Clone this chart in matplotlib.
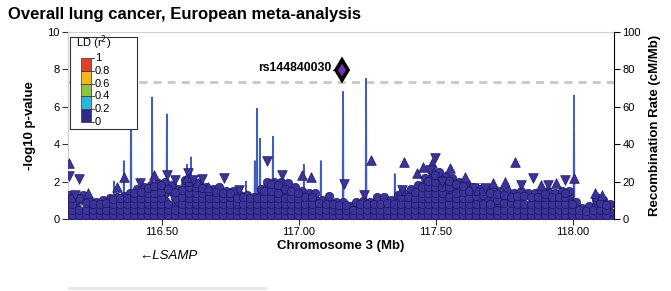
import matplotlib
matplotlib.use("Agg")
import matplotlib.pyplot as plt
from matplotlib.patches import Rectangle

plt.rcParams['font.family'] = ['Liberation Sans', 'DejaVu Sans']

# ---- data ----
title = "Overall lung cancer, European meta-analysis"
xticks = [116.5, 117.0, 117.5, 118.0]
xticklabels = ["116.50", "117.00", "117.50", "118.00"]

lead_snp = "rs144840030"
lead_pos = 117.157
lead_logp = 7.97
sig_line = 7.3

# recombination rate spikes (Mb, cM/Mb), baseline near zero
recomb_peak_pos = [116.325, 116.361, 116.387, 116.464, 116.518, 116.591, 116.606,
                   116.807, 116.839, 116.847, 116.858, 116.905, 117.018, 117.080,
                   117.161, 117.245, 117.350, 118.004]
recomb_peak_rate = [20, 31, 71, 65, 56, 29, 33, 20, 31, 59, 43, 44, 29, 31,
                    68, 75, 24, 66]
recomb_base = 0.5

# SNP columns (circles): position and the -log10 p of the SNPs stacked there
snp_col_pos = [116.160, 116.185, 116.210, 116.235, 116.260, 116.285, 116.310, 116.335,
               116.360, 116.385, 116.410, 116.435, 116.460, 116.485, 116.510, 116.535,
               116.560, 116.585, 116.610, 116.635, 116.660, 116.685, 116.710, 116.735,
               116.760, 116.785, 116.810, 116.835, 116.860, 116.885, 116.910, 116.935,
               116.960, 116.985, 117.010, 117.035, 117.060, 117.085, 117.110, 117.135,
               117.160, 117.185, 117.210, 117.235, 117.260, 117.285, 117.310, 117.335,
               117.360, 117.385, 117.410, 117.435, 117.460, 117.485, 117.510, 117.535,
               117.560, 117.585, 117.610, 117.635, 117.660, 117.685, 117.710, 117.735,
               117.760, 117.785, 117.810, 117.835, 117.860, 117.885, 117.910, 117.935,
               117.960, 117.985, 118.010, 118.035, 118.060, 118.085, 118.110, 118.135]
snp_col_logp = [
    [0.05, 0.35, 0.65, 0.95, 1.3], [0.1, 0.4, 0.7, 1.0, 1.2], [0.05, 0.3, 1.0, 1.3],
    [0.1, 0.4, 0.7, 1.0], [0.05, 0.35, 0.65, 0.9], [0.1, 0.4, 0.7, 1.0],
    [0.05, 0.35, 0.7, 1.1], [0.1, 0.4, 0.75, 1.2], [0.05, 0.35, 0.65, 0.95, 1.25],
    [0.1, 0.4, 0.7, 1.0, 1.4], [0.05, 0.35, 0.65, 0.95, 1.3, 1.6],
    [0.1, 0.4, 0.7, 1.0, 1.35, 1.7], [0.05, 0.35, 0.65, 0.95, 1.25, 1.55, 1.8],
    [0.1, 0.4, 0.7, 1.0, 1.3, 1.6, 1.9], [0.05, 0.35, 0.65, 0.95, 1.4, 1.7, 2.0],
    [0.1, 0.4, 0.7, 1.45, 1.8], [0.05, 0.35, 0.65, 0.95, 1.3, 1.6],
    [0.1, 0.4, 1.1, 1.45, 1.8, 2.1], [0.05, 0.35, 0.65, 0.95, 1.25, 1.55, 1.85, 2.1],
    [0.1, 0.4, 0.7, 1.0, 1.3, 1.6, 1.9], [0.05, 0.35, 0.65, 0.95, 1.25, 1.7],
    [0.1, 0.4, 0.7, 1.0, 1.3, 1.6], [0.05, 0.35, 0.65, 0.95, 1.3, 1.7],
    [0.1, 0.4, 0.7, 1.0, 1.5], [0.05, 0.35, 0.65, 0.95, 1.25, 1.5],
    [0.1, 0.4, 0.7, 1.0, 1.3], [0.05, 0.35, 0.65, 0.95, 1.3], [0.1, 0.4, 0.7, 1.0, 1.2],
    [0.05, 0.35, 0.65, 0.95, 1.3, 1.6], [0.1, 0.4, 0.7, 1.0, 1.35, 1.7, 2.0],
    [0.05, 0.35, 0.65, 0.95, 1.25, 1.65, 2.0], [0.1, 0.4, 0.7, 1.0, 1.3, 1.6, 2.0],
    [0.05, 0.35, 0.65, 0.95, 1.3, 1.9], [0.1, 0.4, 0.7, 1.0, 1.7],
    [0.05, 0.35, 0.65, 0.95, 1.25, 1.5], [0.1, 0.4, 0.7, 1.0, 1.4],
    [0.05, 0.35, 0.65, 1.0, 1.4], [0.1, 0.4, 0.7, 1.0], [0.05, 0.35, 0.65, 0.9, 1.25],
    [0.1, 0.4, 0.7, 0.9], [0.05, 0.35, 0.65, 0.9], [0.1, 0.4, 0.7],
    [0.05, 0.35, 0.65, 0.9], [0.1, 0.4, 0.7, 0.95], [0.05, 0.35, 0.65, 0.9],
    [0.1, 0.4, 0.7, 0.95, 1.2], [0.05, 0.35, 0.65, 0.9, 1.2], [0.1, 0.4, 0.7, 1.0],
    [0.05, 0.35, 0.65, 0.95, 1.3], [0.1, 0.4, 0.7, 1.0, 1.4],
    [0.05, 0.35, 0.65, 0.95, 1.3, 1.6], [0.1, 0.4, 0.7, 1.0, 1.3, 1.55, 1.8],
    [0.05, 0.35, 0.65, 0.95, 1.25, 1.55, 1.9, 2.2],
    [0.1, 0.4, 0.7, 1.0, 1.3, 1.6, 1.9, 2.2, 2.5],
    [0.05, 0.35, 0.65, 0.95, 1.25, 1.55, 1.85, 2.2, 2.5],
    [0.1, 0.4, 0.7, 1.0, 1.3, 1.6, 2.0, 2.3], [0.05, 0.35, 0.65, 0.95, 1.55, 1.9, 2.2],
    [0.1, 0.4, 0.7, 1.0, 1.3, 1.7, 2.0], [0.05, 0.35, 0.65, 0.95, 1.25, 1.6, 1.9],
    [0.1, 0.4, 0.7, 1.0, 1.35, 1.7], [0.05, 0.35, 0.65, 1.1, 1.4, 1.6],
    [0.1, 0.4, 0.7, 1.2, 1.6], [0.05, 0.35, 0.65, 0.95, 1.6], [0.1, 0.4, 0.75, 1.15, 1.5],
    [0.05, 0.35, 1.0, 1.3, 1.5], [0.1, 0.4, 0.7, 1.0, 1.4], [0.05, 0.35, 0.65, 1.1, 1.5],
    [0.1, 0.4, 0.7, 1.4], [0.05, 0.35, 0.65, 0.95, 1.4], [0.1, 0.4, 0.7, 1.0, 1.5],
    [0.05, 0.35, 0.65, 0.95, 1.25, 1.5], [0.1, 0.4, 0.7, 1.0, 1.4],
    [0.05, 0.35, 0.65, 0.95, 1.25, 1.5], [0.1, 0.4, 0.7, 1.0, 1.3, 1.5],
    [0.05, 0.35, 0.65, 0.9], [0.1, 0.4, 0.6], [0.05, 0.35, 0.7], [0.1, 0.4, 0.7, 1.0, 1.2],
    [0.05, 0.35, 0.65, 1.0], [0.1, 0.4, 0.8],
]

# SNPs sitting between the columns above
snp_mid_pos = [116.1725, 116.1975, 116.2225, 116.2475, 116.2725, 116.2975, 116.3225,
               116.3475, 116.3725, 116.3975, 116.4225, 116.4475, 116.4725, 116.4975,
               116.5225, 116.5475, 116.5725, 116.5975, 116.6225, 116.6475, 116.6725,
               116.6975, 116.7225, 116.7475, 116.7725, 116.7975, 116.8225, 116.8475,
               116.8725, 116.8975, 116.9225, 116.9475, 116.9725, 116.9975, 117.0225,
               117.0475, 117.0725, 117.0975, 117.1225, 117.1475, 117.1725, 117.1975,
               117.2225, 117.2475, 117.2725, 117.2975, 117.3225, 117.3475, 117.3725,
               117.3975, 117.4225, 117.4475, 117.4725, 117.4975, 117.5225, 117.5475,
               117.5725, 117.5975, 117.6225, 117.6475, 117.6725, 117.6975, 117.7225,
               117.7475, 117.7725, 117.7975, 117.8225, 117.8475, 117.8725, 117.8975,
               117.9225, 117.9475, 117.9725, 117.9975, 118.0225, 118.0475, 118.0725,
               118.0975, 118.1225]
snp_mid_logp = [
    [0.2, 0.5, 0.8, 1.1], [0.2, 0.5, 1.1], [0.2, 0.5, 0.85], [0.2, 0.5, 0.8],
    [0.2, 0.5, 0.8], [0.2, 0.5, 0.85], [0.2, 0.5, 0.8, 1.05], [0.2, 0.5, 0.8, 1.1],
    [0.2, 0.5, 0.8, 1.1], [0.2, 0.5, 0.8, 1.1, 1.4], [0.2, 0.5, 0.8, 1.1, 1.45],
    [0.2, 0.5, 0.8, 1.1, 1.4, 1.65], [0.2, 0.5, 0.8, 1.1, 1.4, 1.75],
    [0.2, 0.5, 0.8, 1.1, 1.45, 1.8], [0.2, 0.5, 0.8, 1.6], [0.2, 0.5, 1.1, 1.45],
    [0.2, 0.5, 0.8, 1.2, 1.55], [0.2, 0.5, 0.8, 1.1, 1.4, 1.7, 2.0],
    [0.2, 0.5, 0.8, 1.1, 1.4, 1.7, 1.95], [0.2, 0.5, 0.8, 1.1, 1.4, 1.65],
    [0.2, 0.5, 0.8, 1.1, 1.5], [0.2, 0.5, 0.8, 1.1, 1.45], [0.2, 0.5, 0.8, 1.1, 1.4],
    [0.2, 0.5, 0.8, 1.15, 1.4], [0.2, 0.5, 0.8, 1.1], [0.2, 0.5, 0.8, 1.15],
    [0.2, 0.5, 0.8, 1.1], [0.2, 0.5, 0.8, 1.1], [0.2, 0.5, 0.8, 1.1, 1.5],
    [0.2, 0.5, 0.8, 1.1, 1.5, 1.85], [0.2, 0.5, 0.8, 1.1, 1.4, 1.8],
    [0.2, 0.5, 0.8, 1.1, 1.6], [0.2, 0.5, 0.8, 1.1, 1.5], [0.2, 0.5, 0.8, 1.1, 1.4],
    [0.2, 0.5, 0.8, 1.2], [0.2, 0.5, 0.8, 1.2], [0.2, 0.5, 0.85], [0.2, 0.5, 0.8],
    [0.2, 0.5, 0.8], [0.2, 0.5, 0.75], [0.2, 0.5, 0.75], [0.2, 0.5], [0.2, 0.5, 0.8],
    [0.2, 0.5, 0.8], [0.2, 0.5, 0.8], [0.2, 0.5, 0.8], [0.2, 0.5, 0.85], [0.2, 0.5, 0.8],
    [0.2, 0.5, 0.8, 1.15], [0.2, 0.5, 0.8, 1.15], [0.2, 0.5, 0.8, 1.1, 1.45],
    [0.2, 0.5, 0.8, 1.1, 1.4, 1.7], [0.2, 0.5, 0.8, 1.1, 1.4, 1.7, 2.05],
    [0.2, 0.5, 0.8, 1.1, 1.4, 1.7, 2.0, 2.35], [0.2, 0.5, 0.8, 1.1, 1.4, 1.7, 2.1],
    [0.2, 0.5, 0.8, 1.15, 1.7, 2.05], [0.2, 0.5, 0.8, 1.1, 1.4, 1.85],
    [0.2, 0.5, 0.8, 1.1, 1.45, 1.75], [0.2, 0.5, 0.8, 1.1, 1.5], [0.2, 0.5, 0.8, 1.25, 1.5],
    [0.2, 0.5, 0.8, 1.3, 1.5], [0.2, 0.5, 0.8, 1.4], [0.2, 0.5, 1.0, 1.35],
    [0.2, 0.5, 0.85, 1.3], [0.2, 0.5, 0.85, 1.2], [0.2, 0.5, 0.8, 1.25],
    [0.2, 0.5, 0.8, 1.25], [0.2, 0.5, 0.8, 1.2], [0.2, 0.5, 0.8, 1.2],
    [0.2, 0.5, 0.8, 1.15, 1.35], [0.2, 0.5, 0.8, 1.15], [0.2, 0.5, 0.8, 1.15],
    [0.2, 0.5, 0.8, 1.15, 1.4], [0.2, 0.5, 0.8], [0.2, 0.5], [0.2, 0.45], [0.2, 0.5],
    [0.2, 0.5, 0.85], [0.2, 0.5, 0.75],
]

# SNPs drawn as triangles
up_pos = [116.161, 116.230, 116.336, 116.361, 116.471, 116.591, 116.668, 117.011,
          117.044, 117.263, 117.383, 117.372, 117.431, 117.453, 117.485, 117.551,
          117.606, 117.708, 117.752, 117.788, 117.883, 117.938, 118.004, 118.080, 118.106]
up_logp = [2.99, 1.39, 1.71, 2.25, 2.35, 2.25, 1.71, 2.35, 2.25, 3.16, 3.05, 1.55,
           2.46, 2.78, 2.99, 2.73, 2.25, 1.93, 1.98, 3.05, 1.82, 1.93, 2.19, 1.39, 1.28]
down_pos = [116.161, 116.197, 116.182, 116.420, 116.518, 116.547, 116.595, 116.613,
            116.646, 116.726, 116.781, 116.883, 116.938, 117.164, 117.237, 117.376,
            117.478, 117.496, 117.522, 117.639, 117.679, 117.810, 117.854, 117.909, 117.971]
down_logp = [2.30, 2.14, 1.28, 1.93, 2.35, 2.09, 2.46, 2.09, 2.14, 2.19, 1.55, 3.10,
             2.35, 1.87, 1.28, 1.55, 2.62, 3.26, 1.98, 1.66, 1.66, 1.82, 2.19, 1.82, 2.09]

ld_colors = ['#2e2a8c', '#2ab7dd', '#8cc63f', '#f7b718', '#e0402a']
ld_labels = ['0', '0.2', '0.4', '0.6', '0.8', '1']

gene_name = "LSAMP"
gene_start = 116.157
gene_end = 116.876
gene_label_pos = 116.522

# ---- figure ----
fig = plt.figure(figsize=(6.71, 2.91), dpi=100)
ax = fig.add_axes([68 / 671, 1 - 219 / 291, 546 / 671, 187 / 291])
xmin, xmax = 116.157, 118.150

# recombination line, scaled onto the p-value axis (100 cM/Mb <-> 10)
rx, ry = [xmin], [recomb_base]
for p, r in zip(recomb_peak_pos, recomb_peak_rate):
    rx += [p - 0.0015, p, p + 0.0015]
    ry += [recomb_base, r, recomb_base]
rx.append(xmax)
ry.append(recomb_base)
ax.plot(rx, [v / 10 for v in ry], color='#3f5fc0', lw=1.3, zorder=2)

ax.axhline(sig_line, color='#c8c8c8', lw=2, ls=(0, (2.9, 2.2)), zorder=1)

pt_face = '#3a3399'
pt_edge = '#1e1a5e'
cx, cy = [], []
for pos_list, val_list in [(snp_col_pos, snp_col_logp), (snp_mid_pos, snp_mid_logp)]:
    for p, vals in zip(pos_list, val_list):
        for v in vals:
            cx.append(p)
            cy.append(v)
ax.scatter(cx, cy, s=36, marker='o', facecolor=pt_face, edgecolor=pt_edge,
           linewidth=0.5, zorder=3)
ax.scatter(up_pos, up_logp, s=48, marker='^', facecolor=pt_face, edgecolor=pt_edge,
           linewidth=0.5, zorder=4)
ax.scatter(down_pos, down_logp, s=48, marker='v', facecolor=pt_face, edgecolor=pt_edge,
           linewidth=0.5, zorder=4)

ax.plot([lead_pos], [lead_logp], marker='d', ms=10.5, mfc='#7b2cbf', mec='black',
        mew=2.6, zorder=5)
ax.plot([lead_pos - 0.034, lead_pos - 0.020], [lead_logp, lead_logp], color='black',
        lw=0.8, zorder=5)
ax.text(lead_pos - 0.038, lead_logp + 0.12, lead_snp, ha='right', va='center',
        fontsize=8.8, fontweight='bold')

ax.set_xlim(xmin, xmax)
ax.set_ylim(0, 10)
ax.set_xticks(xticks)
ax.set_xticklabels(xticklabels)
ax.set_yticks([0, 2, 4, 6, 8, 10])
ax.tick_params(axis='both', labelsize=8, length=4, width=0.8, color='#333333', pad=2)
ax.set_xlabel("Chromosome 3 (Mb)", fontsize=9.5, fontweight='bold', labelpad=2)
ax.set_ylabel("-log10 p-value", fontsize=9.5, fontweight='bold', labelpad=8)
for side in ['top', 'left']:
    ax.spines[side].set_color('#cfcfcf')
    ax.spines[side].set_linewidth(0.8)
ax.spines['bottom'].set_color('#444444')
ax.spines['right'].set_visible(False)

ax2 = ax.twinx()
ax2.set_ylim(0, 100)
ax2.set_yticks([0, 20, 40, 60, 80, 100])
ax2.tick_params(axis='y', labelsize=8, length=4, width=0.8, pad=2)
ax2.set_ylabel("Recombination Rate (cM/Mb)", fontsize=9.5, fontweight='bold', labelpad=6)
for side in ['top', 'left', 'bottom']:
    ax2.spines[side].set_visible(False)
ax2.spines['right'].set_color('black')

# LD legend
lg = ax.inset_axes([2 / 546, 90 / 187, 67 / 546, 92 / 187])
lg.set_xlim(0, 1)
lg.set_ylim(0, 1)
lg.set_xticks([])
lg.set_yticks([])
for s in lg.spines.values():
    s.set_color('#333333')
    s.set_linewidth(0.8)
lg.set_facecolor('white')
lg.set_zorder(6)
lg.text(0.09, 0.935, "LD (r$^2$)", fontsize=8, va='center', ha='left')
y0, y1 = 0.076, 0.772
step = (y1 - y0) / len(ld_colors)
for i, c in enumerate(ld_colors):
    lg.add_patch(Rectangle((0.164, y0 + i * step), 0.15, step, facecolor=c,
                           edgecolor='#333333', lw=0.5))
for i, lab in enumerate(ld_labels):
    yy = y0 + i * step
    lg.plot([0.314, 0.36], [yy, yy], color='#333333', lw=0.6)
    lg.text(0.37, yy, lab, fontsize=8, va='center', ha='left')

fig.text(8 / 671, 1 - 15 / 291, title, fontsize=12, fontweight='bold',
         ha='left', va='center')

# gene track
gx = fig.add_axes([68 / 671, 0.0, 546 / 671, 0.17], sharex=ax)
gx.set_ylim(0, 1)
gx.axis('off')
gx.plot([gene_start, gene_end], [0.06, 0.06], color='#e6e6e6', lw=2)
gx.text(gene_label_pos, 0.70, "\u2190" + gene_name, fontsize=9.5, style='italic',
        ha='center', va='center')

fig.savefig("out.png", dpi=100)
